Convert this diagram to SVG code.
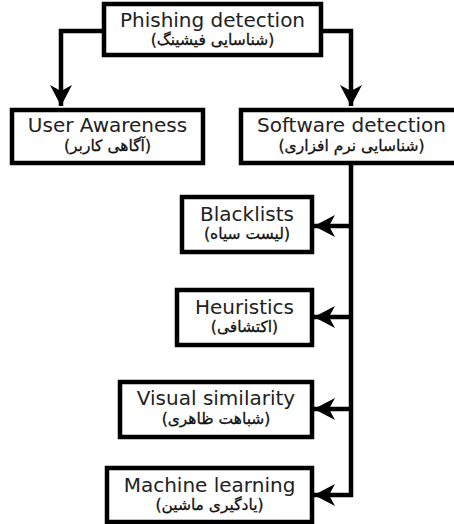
<svg xmlns="http://www.w3.org/2000/svg" width="454" height="524" viewBox="0 0 454 524">
<style>
.box{fill:#fff;stroke:#000;stroke-width:4.5}
.en{font-family:"DejaVu Sans",sans-serif;font-size:20px;text-anchor:middle;fill:#222}
.fa{font-family:"DejaVu Sans",sans-serif;font-size:15.5px;text-anchor:middle;fill:#111;stroke:#111;stroke-width:0.3}
.c{fill:none;stroke:#000;stroke-width:4.5}
</style>
<defs>
<marker id="ah" markerUnits="userSpaceOnUse" markerWidth="24" markerHeight="26" viewBox="-22 -12 24 24" refX="0" refY="0" orient="auto">
<path d="M0,0 L-21,-11 L-15,0 L-21,11 Z" fill="#000"/>
</marker>
</defs>
<rect width="454" height="524" fill="#fff"/>
<g id="connectors">
<path class="c" d="M104,31 H61 V106" marker-end="url(#ah)"/>
<path class="c" d="M321,31 H351 V106" marker-end="url(#ah)"/>
<path class="c" d="M351,163 V495 H314" marker-end="url(#ah)"/>
<path class="c" d="M351,226 H314" marker-end="url(#ah)"/>
<path class="c" d="M351,317 H314" marker-end="url(#ah)"/>
<path class="c" d="M351,409 H314" marker-end="url(#ah)"/>
</g>
<g id="phishing">
<rect class="box" x="104" y="4" width="217" height="51"/>
<text class="en" x="212.5" y="27">Phishing detection</text>
<text class="fa" x="212.5" y="45" direction="rtl">(شناسایی فیشینگ)</text>
</g>
<g id="user">
<rect class="box" x="12" y="110" width="191" height="53"/>
<text class="en" x="107.5" y="132">User Awareness</text>
<text class="fa" x="107.5" y="151" direction="rtl">(آگاهی کاربر)</text>
</g>
<g id="software">
<rect class="box" x="241" y="110" width="221" height="53"/>
<text class="en" x="351.5" y="132">Software detection</text>
<text class="fa" x="351.5" y="151" direction="rtl">(شناسایی نرم افزاری)</text>
</g>
<g id="blacklists">
<rect class="box" x="182" y="197" width="130" height="55"/>
<text class="en" x="247" y="221">Blacklists</text>
<text class="fa" x="247" y="239" direction="rtl">(لیست سیاه)</text>
</g>
<g id="heuristics">
<rect class="box" x="177" y="290" width="135" height="55"/>
<text class="en" x="244.5" y="314">Heuristics</text>
<text class="fa" x="244.5" y="332" direction="rtl">(اکتشافی)</text>
</g>
<g id="visual">
<rect class="box" x="120" y="382" width="192" height="55"/>
<text class="en" x="216" y="405">Visual similarity</text>
<text class="fa" x="216" y="424" direction="rtl">(شباهت ظاهری)</text>
</g>
<g id="ml">
<rect class="box" x="107" y="468" width="205" height="54"/>
<text class="en" x="209.5" y="492">Machine learning</text>
<text class="fa" x="209.5" y="510" direction="rtl">(یادگیری ماشین)</text>
</g>
</svg>
